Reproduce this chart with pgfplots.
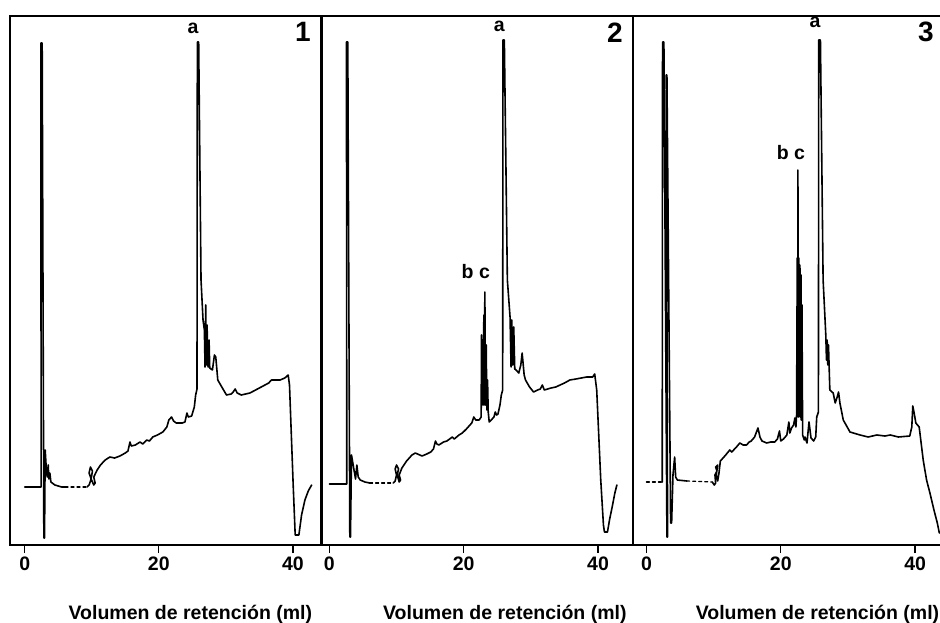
\documentclass[border=0pt]{standalone}
\usepackage{fontspec}
\setmainfont{Liberation Sans}
\usepackage{pgfplots}
\pgfplotsset{compat=1.18}
\newcommand{\lbl}{\bfseries\fontsize{19.5}{22}\selectfont}
\newcommand{\pnum}{\bfseries\fontsize{28}{30}\selectfont}
\pgfplotsset{chrom/.style={
  scale only axis, height=529pt, ymin=0, ymax=529,
  anchor=south west,
  axis line style={line width=1.5pt},
  xtick={0,20,40}, ytick=\empty, xtick pos=bottom,
  tick align=outside, major tick length=8pt,
  every tick/.style={line width=1.4pt, black},
  xticklabel style={font=\lbl},
  /pgf/number format/assume math mode=true,
  xlabel={Volumen de retención (ml)},
  xlabel style={font=\lbl, anchor=base, yshift=-74pt},
  cycle list={{black, no markers}},
  every axis plot/.append style={line width=1.6pt, line join=round, line cap=round},
}}
\begin{document}
\begin{tikzpicture}
\useasboundingbox (0,0) rectangle (940pt,622pt);
% ---------- panel 1
\begin{axis}[chrom, at={(10pt,77pt)}, width=311pt, xmin=-2.2, xmax=44.2,
  xlabel style={at={(axis description cs:0.58,0)}}]
\addplot coordinates {(0,58) (2.45,58) (2.4,502) (2.6,502) (2.85,7) (2.95,7) (3.05,95) (3.2,78) (3.35,68) (3.5,80) (3.6,66) (3.75,72) (3.9,63) (4.5,60) (5.5,58) (6,58)};
\addplot+[dashed, line width=1.2pt] coordinates {(6,58) (9.3,58)};
\addplot coordinates {(9.3,58) (9.6,60) (9.9,66) (9.6,72) (9.8,78) (10.1,74) (9.9,66) (10.3,60) (10.5,62) (10.3,68) (10.8,75) (11.3,80) (12.0,85) (12.7,88) (13.4,87) (14.2,89) (15.0,92) (15.4,94) (15.7,103) (15.9,99) (16.5,100) (17.2,103) (17.6,101) (18.2,105) (18.6,104) (19.1,108) (19.8,110) (20.6,113) (21.2,118) (21.5,125) (21.9,128) (22.2,124) (22.6,122) (23.5,122) (23.9,123) (24.2,132) (24.4,128) (24.9,129) (25.3,138) (25.5,150) (25.7,156) (25.75,503) (25.95,503) (26.3,265) (26.6,225) (26.8,215) (26.9,178) (27.0,240) (27.1,180) (27.2,220) (27.35,178) (27.5,205) (27.6,177) (28.0,175) (28.3,190) (28.5,188) (28.8,165) (29.4,158) (30.1,150) (30.8,151) (31.1,153) (31.4,156) (31.7,152) (32.3,150) (33.6,152) (35.0,157) (36.4,162) (36.8,165) (37.5,165) (38.1,165) (38.8,167) (39.3,170) (39.5,160) (40.05,60) (40.35,10) (40.9,10) (41.3,30) (41.8,45) (42.3,54) (42.8,60)};
\node[font=\lbl] at (axis cs:25.1,517) {a};
\node[font=\pnum] at (axis cs:41.5,513) {1};
\end{axis}
% ---------- panel 2
\begin{axis}[chrom, at={(322pt,77pt)}, width=311pt, xmin=-1.09, xmax=45.2,
  xlabel style={at={(axis description cs:0.588,0)}}]
\addplot coordinates {(0,61) (2.6,61) (2.55,503) (2.75,503) (3.05,8) (3.15,8) (3.3,90) (3.6,78) (3.9,66) (4.1,80) (4.3,68) (4.6,65) (5.3,63) (6,62)};
\addplot+[dashed, line width=1.2pt] coordinates {(6,62) (9.5,62)};
\addplot coordinates {(9.5,62) (9.8,64) (10.0,70) (9.8,76) (10.0,80) (10.3,76) (10.1,70) (10.4,63) (10.6,65) (10.4,70) (10.8,77) (11.5,84) (12.3,90) (12.8,92) (13.8,89) (14.5,91) (15.1,93) (15.5,96) (15.8,104) (16.0,101) (16.3,100) (17.0,103) (17.5,104) (18.3,108) (18.6,106) (19.3,110) (19.8,112) (20.4,116) (20.8,119) (21.2,122) (21.5,128) (21.8,125) (22.3,125) (22.6,128) (22.65,210) (22.75,140) (22.8,205) (22.9,140) (23.0,230) (23.05,140) (23.15,253) (23.25,140) (23.35,200) (23.45,135) (23.55,165) (23.65,133) (23.8,123) (24.1,125) (24.5,128) (24.7,133) (24.9,130) (25.1,131) (25.4,140) (25.6,150) (25.8,155) (25.85,505) (26.05,505) (26.5,265) (26.9,228) (27.05,178) (27.15,225) (27.3,180) (27.45,218) (27.6,176) (27.8,175) (28.2,172) (28.5,180) (28.7,192) (29.0,170) (29.2,165) (29.8,158) (30.4,153) (31.0,155) (31.4,156) (31.7,160) (32.0,155) (33.0,157) (33.7,158) (35.0,162) (35.8,165) (36.7,166) (37.5,167) (38.3,168) (39.2,168) (39.5,171) (39.8,155) (40.4,65) (40.8,20) (40.95,13) (41.4,13) (41.7,25) (42.1,38) (42.5,52) (42.8,60)};
\node[font=\lbl] at (axis cs:25.3,519) {a};
\node[font=\pnum] at (axis cs:42.5,512) {2};
\node[font=\lbl] at (axis cs:21.8,273) {b c};
\end{axis}
% ---------- panel 3
\begin{axis}[chrom, at={(633pt,77pt)}, width=307pt, xmin=-2.0, xmax=43.7,
  axis x line*=box, axis y line*=left, y axis line style={-},
  xlabel style={at={(axis description cs:0.601,0)}}]
\addplot+[dashed, line width=1.2pt] coordinates {(0,63) (2.35,63)};
\addplot coordinates {(2.35,63) (2.4,503) (2.6,503) (3.05,8) (3.15,8) (2.95,470) (3.05,470) (3.6,22) (3.75,22) (3.95,70) (4.2,88) (4.35,68) (4.6,65) (6.0,64)};
\addplot+[dashed, line width=1.2pt] coordinates {(6.0,64) (9.8,63)};
\addplot coordinates {(9.8,63) (10.1,60) (10.3,62) (10.2,70) (10.5,74) (10.3,78) (10.6,80) (10.4,70) (10.6,64) (10.8,72) (11.0,84) (11.8,90) (12.4,95) (12.7,93) (13.4,98) (13.9,102) (14.4,100) (14.9,100) (15.3,103) (15.6,104) (16.1,108) (16.6,117) (16.9,108) (17.2,104) (17.9,102) (18.5,103) (19.1,103) (19.5,106) (19.8,114) (20.0,104) (20.4,106) (20.9,110) (21.2,123) (21.35,112) (21.6,117) (21.9,120) (22.1,127) (22.25,118) (22.35,130) (22.45,287) (22.5,130) (22.55,375) (22.6,128) (22.7,287) (22.75,130) (22.85,280) (22.9,128) (23.0,270) (23.05,125) (23.15,240) (23.25,110) (23.5,105) (23.6,108) (23.9,102) (24.2,123) (24.5,107) (24.9,104) (25.2,108) (25.35,128) (25.6,133) (25.65,505) (25.9,505) (26.3,265) (26.7,210) (26.8,185) (26.9,205) (27.0,180) (27.1,200) (27.3,155) (27.8,152) (28.1,142) (28.4,148) (28.6,153) (28.8,142) (29.3,125) (30.3,113) (31.8,110) (33.0,108) (34.3,110) (35.5,109) (36.3,110) (37.5,108) (39.2,109) (39.5,118) (39.65,139) (39.85,132) (40.1,122) (40.6,118) (41.2,85) (41.7,65) (42.2,52) (42.8,35) (43.3,22) (43.6,12)};
\node[font=\lbl] at (axis cs:25.1,523) {a};
\node[font=\pnum] at (axis cs:41.6,513) {3};
\node[font=\lbl] at (axis cs:21.5,392) {b c};
\end{axis}
\end{tikzpicture}
\end{document}
